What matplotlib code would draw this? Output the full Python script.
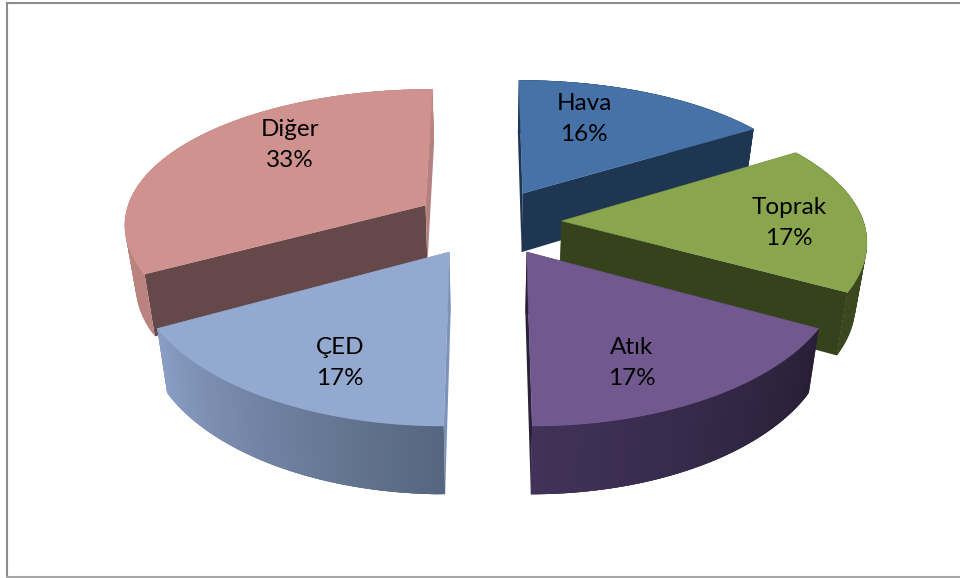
import numpy as np
import matplotlib
matplotlib.use('Agg')
import matplotlib.pyplot as plt
from matplotlib.colors import to_rgb
from matplotlib.patches import Polygon

# clockwise from the top, same order as the original chart
labels = ['Hava', 'Toprak', 'Atık', 'ÇED', 'Diğer']
values = [16, 17, 17, 17, 33]

top_colors = ['#4672a8', '#89a54e', '#71588f', '#93a9cf', '#cf928e']
cut_start = ['#1f3653', '#36421c', '#2a2038', '#7d92b8', '#65494a']
cut_end = ['#1f3653', '#36421c', '#2a2038', '#7d92b8', '#b48280']
wall_start = ['#1f3653', '#3a471f', '#281f36', '#56667f', '#bb8380']
wall_end = ['#1f3653', '#3a471f', '#42325a', '#8a9ec4', '#bb8380']

label_pos = [(584, 119), (789, 223), (632, 363), (340, 363), (290, 145)]
draw_order = [0, 4, 1, 3, 2]

# pixel geometry of the fake 3d projection
cx, cy = 488, 222
fx, fy = 302, 138
persp_x = 0.125
persp_y = 0.15
persp_d = 0.1
depth = 60
shrink = 0.03
explode = 0.244


def project(X, Y, z=0.0):
    x = cx + fx * X * (1 - shrink * z) / (1 + persp_x * Y)
    y = cy - fy * Y / (1 + persp_y * Y) + depth * z / (1 + persp_d * Y)
    return np.column_stack([x, y])


fig = plt.figure(figsize=(9.6, 5.78), dpi=100)
ax = fig.add_axes([0, 0, 1, 1])
ax.set_xlim(0, 960)
ax.set_ylim(578, 0)
ax.axis('off')

# chart area frame, right side runs off the picture
ax.plot([960, 6.5, 6.5], [2.5, 2.5, 578], color='#8c8c8c', lw=1.5, solid_joinstyle='miter')
ax.plot([6.5, 960], [577, 577], color='#a6a6a6', lw=1.5)

edges = np.cumsum([0] + values) / sum(values) * 2 * np.pi

for n, i in enumerate(draw_order):
    a0, a1 = edges[i], edges[i + 1]
    mid = (a0 + a1) / 2
    ox, oy = explode * np.sin(mid), explode * np.cos(mid)
    th = np.linspace(a0, a1, 120)
    rx, ry = ox + np.sin(th), oy + np.cos(th)
    rim_top = project(rx, ry, 0)
    rim_bot = project(rx, ry, 1)
    apex_top = project(np.array([ox]), np.array([oy]), 0)
    apex_bot = project(np.array([ox]), np.array([oy]), 1)
    z = 2 + n

    # the two cut faces
    for k, col in ((0, cut_start[i]), (-1, cut_end[i])):
        face = [apex_top[0], rim_top[k], rim_bot[k], apex_bot[0]]
        ax.add_patch(Polygon(face, closed=True, fc=col, ec='none', zorder=z))

    # outer wall as overlapping strips so no seams show between them
    c0, c1 = np.array(to_rgb(wall_start[i])), np.array(to_rgb(wall_end[i]))
    for j in range(len(th) - 1):
        j2 = min(j + 3, len(th) - 1)
        quad = [rim_top[j], rim_top[j2], rim_bot[j2], rim_bot[j]]
        t = j / (len(th) - 2)
        ax.add_patch(Polygon(quad, closed=True, fc=c0 + (c1 - c0) * t, ec='none', zorder=z))

    top = np.vstack([apex_top, rim_top])
    ax.add_patch(Polygon(top, closed=True, fc=top_colors[i], ec=top_colors[i], lw=0.3, zorder=z))

for name, val, (lx, ly) in zip(labels, values, label_pos):
    ax.text(lx, ly, f'{name}\n{val}%', ha='center', va='center', fontsize=17.5,
            family='Lato', color='black', linespacing=1.6, zorder=10)

fig.savefig('out.png', dpi=100)
